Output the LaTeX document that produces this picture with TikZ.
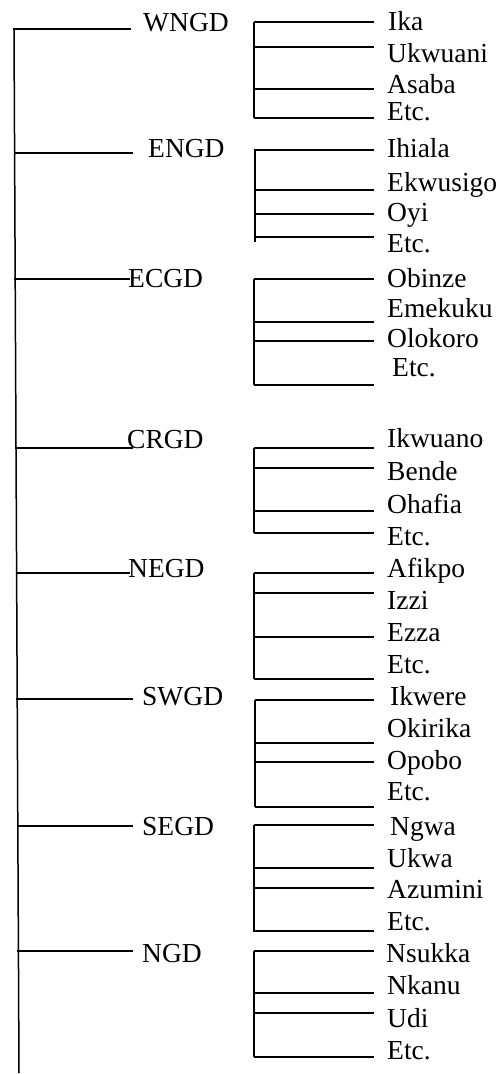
\documentclass[tikz,border=0pt]{standalone}
\usepackage{fontspec}
\setmainfont{Liberation Serif}
\newcommand\grp[9]{%
  \coordinate (#1m) at (#9,#2); \coordinate (#1e) at (#3,#2);
  \draw[ln] (#1m) -- (#1e);
  \node[lbl] (#1) at (#4,#5) {#6};
  \coordinate (#1t) at (\bx,#7); \coordinate (#1b) at (\bx,#8);
  \draw[ln] (#1t) -- (#1b);}
\newcommand\leaf[5]{%
  \coordinate (#1a) at (\bx,#2); \coordinate (#1b) at (374,#2);
  \draw[ln] (#1a) -- (#1b);
  \node[lbl] (#1) at (#3,#4) {#5};}
\begin{document}
\begin{tikzpicture}[x=1pt,y=-1pt,
  ln/.style={line width=1.5pt},
  lbl/.style={anchor=base west, inner sep=0pt, font=\fontsize{27.5}{30}\selectfont}]
\useasboundingbox (0,0) rectangle (500,1074);
\coordinate (top) at (14,29);
\coordinate (bot) at (19,1073);
\draw[ln] (top) -- (bot);
% WNGD
\def\bx{254}
\grp{g1}{29}{131}{143}{31}{WNGD}{22}{118}{13}
\leaf{l11}{22}{388}{30}{Ika}
\leaf{l12}{47}{387}{62}{Ukwuani}
\leaf{l13}{89}{387}{93}{Asaba}
\leaf{l14}{118}{387}{120}{Etc.}
% ENGD
\def\bx{255}
\grp{g2}{153}{133}{148}{157}{ENGD}{149}{242}{13.6}
\leaf{l21}{150}{387}{157}{Ihiala}
\leaf{l22}{190}{387}{191}{Ekwusigo}
\leaf{l23}{214}{387}{221}{Oyi}
\leaf{l24}{237}{387}{252}{Etc.}
% ECGD
\def\bx{254}
\grp{g3}{279}{130}{128}{287}{ECGD}{279}{385}{14.2}
\leaf{l31}{279}{387}{287}{Obinze}
\leaf{l32}{322}{387}{317}{Emekuku}
\leaf{l33}{341}{387}{347}{Olokoro}
\leaf{l34}{385}{392}{376}{Etc.}
% CRGD
\grp{g4}{448}{133}{127}{448}{CRGD}{448}{533}{15}
\leaf{l41}{448}{387}{447}{Ikwuano}
\leaf{l42}{468}{387}{480}{Bende}
\leaf{l43}{511}{387}{513}{Ohafia}
\leaf{l44}{533}{387}{545}{Etc.}
% NEGD
\grp{g5}{573}{130}{128}{577}{NEGD}{573}{679}{15.6}
\leaf{l51}{573}{387}{577}{Afikpo}
\leaf{l52}{593}{387}{609}{Izzi}
\leaf{l53}{637}{387}{641}{Ezza}
\leaf{l54}{679}{387}{673}{Etc.}
% SWGD
\def\bx{255}
\grp{g6}{699}{133}{142}{705}{SWGD}{700}{807}{16.2}
\leaf{l61}{700}{390}{705}{Ikwere}
\leaf{l62}{743}{387}{737}{Okirika}
\leaf{l63}{762}{387}{769}{Opobo}
\leaf{l64}{807}{387}{800}{Etc.}
% SEGD
\def\bx{254}
\grp{g7}{826}{133}{142}{835}{SEGD}{825}{932}{16.8}
\leaf{l71}{825}{390}{835}{Ngwa}
\leaf{l72}{868}{387}{867}{Ukwa}
\leaf{l73}{888}{387}{898}{Azumini}
\leaf{l74}{931}{387}{930}{Etc.}
% NGD
\grp{g8}{951}{133}{142}{962}{NGD}{951}{1057}{17.4}
\leaf{l81}{951}{386}{962}{Nsukka}
\leaf{l82}{993}{387}{994}{Nkanu}
\leaf{l83}{1013}{387}{1027}{Udi}
\leaf{l84}{1057}{387}{1059}{Etc.}
\end{tikzpicture}
\end{document}
